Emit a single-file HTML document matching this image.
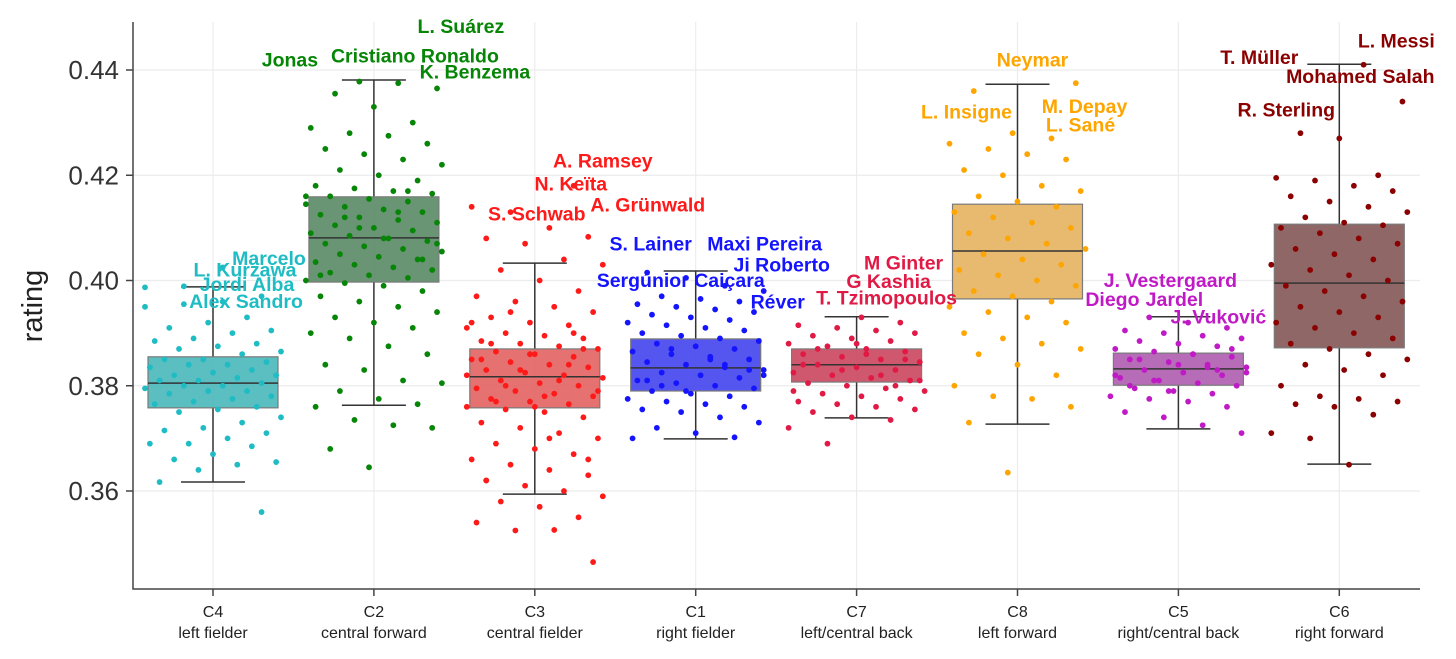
<!DOCTYPE html>
<html><head><meta charset="utf-8">
<style>
html,body{margin:0;padding:0;background:#fff;}
svg{display:block;font-family:"Liberation Sans",Arial,sans-serif;}
</style></head>
<body>
<svg id="chart" width="1456" height="659" viewBox="0 0 1456 659"></svg>
<script>
const categories = ["C4","C2","C3","C1","C7","C8","C5","C6"];
const roles = ["left fielder","central forward","central fielder","right fielder","left/central back","left forward","right/central back","right forward"];
const colors = ["#1fbcc4","#068506","#ff1a1a","#1414ff","#e01a45","#ffa500","#c01ac6","#8b0000"];
const boxFills = ["#4db8bc","#5c8c68","#e36565","#4646ee","#cc4a62","#e5b464","#b060b0","#875a5a"];
const yTicks = [0.36,0.38,0.40,0.42,0.44];
// box stats: whisker low, q1, median, q3, whisker high
const wLow = [0.3617,0.3763,0.3594,0.3699,0.3739,0.3727,0.3718,0.3651];
const q1   = [0.3758,0.3997,0.3758,0.3790,0.3807,0.3965,0.3801,0.3872];
const med  = [0.3805,0.4081,0.3817,0.3834,0.3840,0.4056,0.3832,0.3995];
const q3   = [0.3855,0.4159,0.3870,0.3889,0.3870,0.4145,0.3862,0.4107];
const wHigh= [0.3988,0.4381,0.4033,0.4018,0.3931,0.4373,0.3931,0.4411];
// points (rating x1000)
const ptsC4 = [398.7,398.9,402.5,356,361.7,364,365,365.5,366,367,368.5,369,369,370,371,371.5,372,373,374,375,375.5,376,376.5,377,377.5,378,378.5,379,379,379.5,380,380,380.5,381,381,381.5,382,382,382.5,383,383.5,384,384,384.5,385,385,386,386.5,387,387.5,388,388.5,389,390,390.5,391,392,393,395,395.5,396,397];
const ptsC2 = [437.8,437.5,436.5,435.5,433,430,429,428,427.5,426,425,424,423,422,421,420,419,418,417.5,417,416.5,416,415.5,415,414.5,414,413.5,413,412.5,412,411.5,411,410.5,410,409.5,409,408.5,408,407.5,407,406.5,406,405.5,405,404.5,404,403.5,403,402.5,402,401.5,401,400.5,400,399.5,399,398,397,396,395,394,393,392,391,390,389,387.5,386,384,383,381,380.5,379,377.5,376.5,376,373.5,372.5,372,368,364.5,417,416,412,408,404,401,410,413,407];
const ptsC3 = [418,414,413,410,408.3,408,407,404,403,402,400,398,397,396,395,394,393,392,391.5,391,390,389.5,389,388.5,388,387.5,387,386.5,386,385.5,385,384.5,384,383.5,383,382.5,382,381.5,381,380.5,380,379.5,379,378.5,378,377.5,377,376.5,376,375.5,375,374,373,372,371,370,369,368,367,366,365,364,363,362,361,360,359,358,357,355,354,352.5,352.6,346.5,388,386,384,382,380,378,387,385,383,381,379,377,376,390,392,394,370,366,362];
const ptsC1 = [401.5,400.5,399,398,397,396.5,396,395.5,395,394.5,394,393.5,393,392.5,392,391.5,391,390.5,390,389.5,389,388.5,388,387.5,387,386.5,386,385.5,385,384.5,384,383.5,383,382.5,382,381.5,381,380.5,380,379.5,379,378.5,378,377.5,377,376.5,376,375.5,375,374,373,372,371,370.2,370,387,385,383,381,379,384,382,380];
const ptsC7 = [393,392,391.5,391,390.5,390,389.5,389,388.5,388,387.5,387,386.5,386,385.5,385,384.5,384,383.5,383,382.5,382,381.5,381,380.5,380,379.5,379,378.5,378,377.5,377,376.5,376,375.5,375,374,373.5,372,369,386,385,384,383,382,381,387,388,380,379];
const ptsC8 = [437.5,436,428,427,426,425,424,423,421,420,418,417,416,415,414,413,412,411,410,409,408,407,406,405,404,403,402,401,400,399,398,397,396,395,394,393,392,390,389,388,387,386,384,382,380,378,377.5,376,373,363.5];
const ptsC5 = [393,392,391,390.5,390,389.5,389,388.5,388,387.5,387,386.5,386,385.5,385,384.5,384,383.5,383,382.5,382,381.5,381,380.5,380,379.5,379,378.5,378,377.5,377,376,375,374,372.5,371,385,384,383,382,381,386,387,380,379,383.5,382.5];
const ptsC6 = [441,434,428,427,420,419.5,419,418,417,416,415,414,413,412,411,410.5,410,409,408,407,406,405,404,403,402,401,400,399,398,397,396,395,394,393,392,391,390,389,388,387,386,385,384,383,382,380,378,377.5,377,376.5,376,374.5,371,370,365];
const pointSets = [ptsC4,ptsC2,ptsC3,ptsC1,ptsC7,ptsC8,ptsC5,ptsC6];
// labels: category index, name, rating, x offset(px)
const labelCat = [0,0,0,0, 1,1,1,1, 2,2,2,2, 3,3,3,3,3, 4,4,4, 5,5,5,5, 6,6,6,6, 7,7,7,7];
const labelText = ["Marcelo","L. Kurzawa","Jordi Alba","Alex Sandro",
 "L. Suárez","Jonas","Cristiano Ronaldo","K. Benzema",
 "A. Ramsey","N. Keïta","A. Grünwald","S. Schwab",
 "S. Lainer","Maxi Pereira","Ji Roberto","Sergúnior Caiçara","Réver",
 "M  Ginter","G  Kashia","T. Tzimopoulos",
 "Neymar","L. Insigne","M. Depay","L. Sané",
 "J. Vestergaard","Diego","Jardel","J. Vuković",
 "L. Messi","T. Müller","Mohamed Salah","R. Sterling"];
const labelVal = [0.4029,0.4008,0.3980,0.3948, 0.4470,0.4407,0.4414,0.4384, 0.4215,0.4171,0.4131,0.4114, 0.4057,0.4057,0.4017,0.3988,0.3947, 0.4021,0.3986,0.3954, 0.4407,0.4308,0.4318,0.4283, 0.3988,0.3952,0.3952,0.3918, 0.4443,0.4411,0.4375,0.4312];
const labelDx = [56,32,34,33, 87,-84,41,101, 68,36,113,2, -45,69,86,-15,82, 47,32,30, 15,-51,67,63, -8,-66,-4,40, 57,-80,21,-53];

const NS="http://www.w3.org/2000/svg";
const svg=document.getElementById('chart');
const L=133,R=1420,T=22,B=589;
const xc=i=>213+i*160.9;
const y=v=>491-(v-0.36)/0.02*105.25;
function el(t,a,p){const e=document.createElementNS(NS,t);for(const k in a)e.setAttribute(k,a[k]);(p||svg).appendChild(e);return e;}

// grid
yTicks.forEach(v=>{const g=el('line',{x1:L,x2:R,y1:y(v),y2:y(v),stroke:'#ececec','stroke-width':1.2});

});
categories.forEach((c,i)=>{const g=el('line',{x1:xc(i),x2:xc(i),y1:T,y2:B,stroke:'#ececec','stroke-width':1.2});

});

// boxes
categories.forEach((c,i)=>{
 const x=xc(i),hw=65,cw=32;
 const g=el('g',{});
 
 
 el('line',{x1:x,x2:x,y1:y(wHigh[i]),y2:y(q3[i]),stroke:'#333','stroke-width':1.5},g);
 el('line',{x1:x,x2:x,y1:y(q1[i]),y2:y(wLow[i]),stroke:'#333','stroke-width':1.5},g);
 el('line',{x1:x-cw,x2:x+cw,y1:y(wHigh[i]),y2:y(wHigh[i]),stroke:'#333','stroke-width':1.5},g);
 el('line',{x1:x-cw,x2:x+cw,y1:y(wLow[i]),y2:y(wLow[i]),stroke:'#333','stroke-width':1.5},g);
 el('rect',{x:x-hw,y:y(q3[i]),width:2*hw,height:y(q1[i])-y(q3[i]),fill:boxFills[i],'fill-opacity':0.92,stroke:'#7a7a7a','stroke-width':1.2},g);
 el('line',{x1:x-hw,x2:x+hw,y1:y(med[i]),y2:y(med[i]),stroke:'#333','stroke-width':1.5},g);
});

// points
pointSets.forEach((pts,i)=>{
 const g=el('g',{fill:colors[i]});
 
 
 pts.forEach((v,k)=>{
  const j=(((k*37+i*11)%29)/28-0.5)*136;
  const c=el('circle',{cx:xc(i)+j,cy:y(v/1000),r:2.9},g);
  
  
 });
});

// labels
labelText.forEach((t,k)=>{
 const i=labelCat[k];
 const e=el('text',{x:xc(i)+labelDx[k],y:y(labelVal[k]),'text-anchor':'middle','font-size':19.5,'font-weight':'bold',fill:colors[i]});
 e.textContent=t;
 
 
});

// axes
const ax=el('path',{d:`M${L},${T}V${B}H${R}`,fill:'none',stroke:'#444','stroke-width':1.5});


yTicks.forEach(v=>{
 el('line',{x1:L-7,x2:L,y1:y(v),y2:y(v),stroke:'#444','stroke-width':1.5});
 const t=el('text',{x:119,y:y(v)+9,'text-anchor':'end','font-size':26,fill:'#333'});
 t.textContent=v.toFixed(2);
 
 
});
categories.forEach((c,i)=>{
 el('line',{x1:xc(i),x2:xc(i),y1:B,y2:B+7,stroke:'#444','stroke-width':1.5});
 const t=el('text',{x:xc(i),y:617,'text-anchor':'middle','font-size':16,fill:'#222'});
 t.textContent=c;
 
 
 const t2=el('text',{x:xc(i),y:638,'text-anchor':'middle','font-size':16,fill:'#222'});
 t2.textContent=roles[i];
 
 
});
const yt=el('text',{x:0,y:0,transform:'translate(42,306) rotate(-90)','text-anchor':'middle','font-size':29,fill:'#222'});
yt.textContent='rating';


</script>
</body></html>
